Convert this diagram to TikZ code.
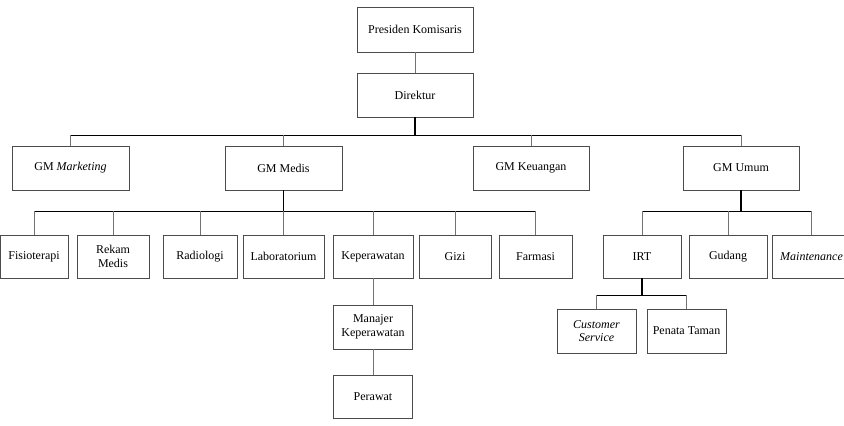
\documentclass[tikz,border=0pt]{standalone}
\usepackage{fontspec}
\setmainfont{Liberation Serif}[ItalicFont=Liberation Serif Italic,BoldFont=Liberation Serif Bold]
\begin{document}
\begin{tikzpicture}[x=1pt,y=-1pt,
  box/.style={draw=black!70,line width=0.6pt,fill=white,inner sep=0pt,align=center,
    font=\fontsize{12}{13.5}\selectfont},
  drop/.style={draw=black!55,line width=0.7pt},
  bus/.style={draw=black,line width=0.7pt},
  trunk/.style={draw=black,line width=1.2pt}]
\useasboundingbox (0,0) rectangle (844,426);
% top
\node[box,minimum width=116,minimum height=45] (pk) at (415,29.5) {Presiden Komisaris};
\node[box,minimum width=116,minimum height=44] (dir) at (415,95) {Direktur};
% GMs
\node[box,minimum width=117,minimum height=44] (gmm) at (70.5,168) {GM \textit{Marketing}};
\node[box,minimum width=117,minimum height=44] (gmd) at (283.5,168) {GM Medis};
\node[box,minimum width=116,minimum height=44] (gmk) at (531,168) {GM Keuangan};
\node[box,minimum width=116,minimum height=44] (gmu) at (741,168) {GM Umum};
% Medis children
\node[box,minimum width=68,minimum height=43] (fis) at (34,256.5) {Fisioterapi};
\node[box,minimum width=72,minimum height=43] (rek) at (113,256.5) {Rekam\\Medis};
\node[box,minimum width=74,minimum height=43] (rad) at (200,256.5) {Radiologi};
\node[box,minimum width=81,minimum height=43] (lab) at (283.5,256.5) {Laboratorium};
\node[box,minimum width=80,minimum height=43] (kep) at (373,256.5) {Keperawatan};
\node[box,minimum width=72,minimum height=43] (gizi) at (455,256.5) {Gizi};
\node[box,minimum width=73,minimum height=43] (far) at (535.5,256.5) {Farmasi};
% Umum children
\node[box,minimum width=78,minimum height=43] (irt) at (642,256.5) {IRT};
\node[box,minimum width=78,minimum height=43] (gud) at (728,256.5) {Gudang};
\node[box,minimum width=79,minimum height=43] (mnt) at (811.5,256.5) {\textit{Maintenance}};
% Keperawatan chain
\node[box,minimum width=79,minimum height=44] (man) at (373,327) {Manajer\\Keperawatan};
\node[box,minimum width=79,minimum height=43] (per) at (373,396.5) {Perawat};
% IRT children
\node[box,minimum width=79,minimum height=44] (cs) at (596.5,331) {\textit{Customer}\\\textit{Service}};
\node[box,minimum width=79,minimum height=44] (pt) at (686.5,331) {Penata Taman};
% bus coordinates
\coordinate (b1) at (415,135);
\coordinate (b2) at (283.5,211);
\coordinate (b3) at (741,211);
\coordinate (b4) at (642,295);
% connectors level 1
\draw[drop] (pk.south) -- (dir.north);
\draw[trunk] (dir.south) -- (b1);
\draw[bus] (gmm.north |- b1) -- (gmu.north |- b1);
\foreach \n in {gmm,gmd,gmk,gmu} \draw[drop] (\n.north |- b1) -- (\n.north);
% Medis
\draw[trunk] (gmd.south) -- (b2);
\draw[bus] (fis.north |- b2) -- (far.north |- b2);
\foreach \n in {fis,rek,rad,lab,kep,gizi,far} \draw[drop] (\n.north |- b2) -- (\n.north);
% Umum
\draw[trunk] (gmu.south) -- (b3);
\draw[bus] (irt.north |- b3) -- (mnt.north |- b3);
\foreach \n in {irt,gud,mnt} \draw[drop] (\n.north |- b3) -- (\n.north);
% Keperawatan chain
\draw[drop] (kep.south) -- (man.north);
\draw[drop] (man.south) -- (per.north);
% IRT
\draw[trunk] (irt.south) -- (b4);
\draw[bus] (cs.north |- b4) -- (pt.north |- b4);
\foreach \n in {cs,pt} \draw[drop] (\n.north |- b4) -- (\n.north);
\end{tikzpicture}
\end{document}
